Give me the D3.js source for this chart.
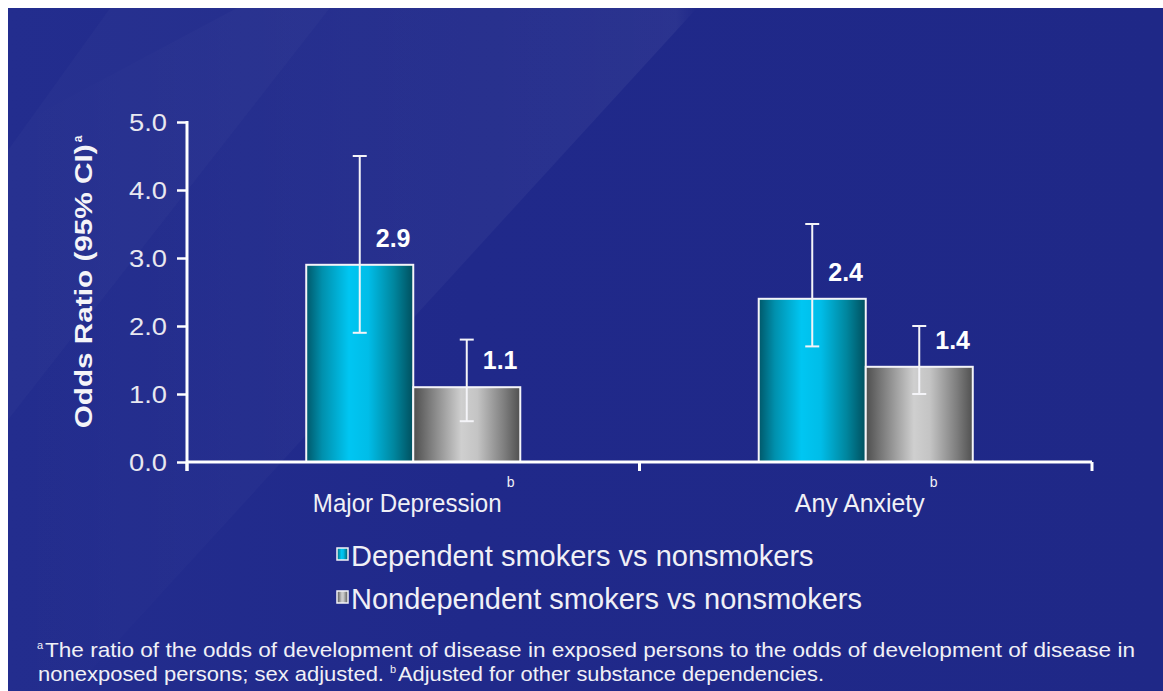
<!DOCTYPE html>
<html>
<head>
<meta charset="utf-8">
<script src="https://cdn.jsdelivr.net/npm/d3@7/dist/d3.min.js"></script>
<style>
  html, body { margin: 0; padding: 0; background: #fff; }
  svg { display: block; font-family: Arial, "Liberation Sans", sans-serif; }
</style>
</head>
<body>
<svg id="chart"></svg>
<script>
// data
var categories = ["Major Depression", "Any Anxiety"];
var seriesNames = ["Dependent smokers vs nonsmokers", "Nondependent smokers vs nonsmokers"];
var dependentOR = [2.9, 2.4];
var dependentLow = [1.9, 1.7];
var dependentHigh = [4.5, 3.5];
var nondependentOR = [1.1, 1.4];
var nondependentLow = [0.6, 1.0];
var nondependentHigh = [1.8, 2.0];
var yTicks = [0, 1, 2, 3, 4, 5];
var footnote1 = "The ratio of the odds of development of disease in exposed persons to the odds of development of disease in";
var footnote2a = "nonexposed persons; sex adjusted.";
var footnote2b = "Adjusted for other substance dependencies.";

var W = 1163, H = 691;
var svg = d3.select("#chart").attr("width", W).attr("height", H);
var defs = svg.append("defs");

// background: white frame top/left, dark blue panel with lighter diagonal streak
var bgGrad = defs.append("linearGradient").attr("id", "bg").attr("x1", "0").attr("y1", "0").attr("x2", "1").attr("y2", "0");
bgGrad.append("stop").attr("offset", "0%").attr("stop-color", "#232d8e");
bgGrad.append("stop").attr("offset", "40%").attr("stop-color", "#20298a");
bgGrad.append("stop").attr("offset", "100%").attr("stop-color", "#1f2887");

svg.append("rect").attr("width", W).attr("height", H).attr("fill", "#fff");
svg.append("rect").attr("x", 8).attr("y", 8).attr("width", W - 8).attr("height", H - 8).attr("fill", "url(#bg)");

var streak = defs.append("linearGradient").attr("id", "streak").attr("x1", "0").attr("y1", "0").attr("x2", "1").attr("y2", "0");
streak.append("stop").attr("offset", "0%").attr("stop-color", "#fff").attr("stop-opacity", 0.0);
streak.append("stop").attr("offset", "55%").attr("stop-color", "#fff").attr("stop-opacity", 0.03);
streak.append("stop").attr("offset", "97%").attr("stop-color", "#fff").attr("stop-opacity", 0.05);
streak.append("stop").attr("offset", "100%").attr("stop-color", "#fff").attr("stop-opacity", 0.0);

svg.append("path")
    .attr("d", "M237,8 L697,8 L72,691 L8,691 L8,130 Z")
    .attr("fill", "url(#streak)");
svg.append("path")
    .attr("d", "M110,8 L330,8 L8,420 L8,150 Z")
    .attr("fill", "#fff").attr("opacity", 0.02);

// bar gradients
function barGradient(id, stops) {
    var g = defs.append("linearGradient").attr("id", id)
        .attr("x1", "0").attr("y1", "0").attr("x2", "1").attr("y2", "0");
    stops.forEach(function(s) {
        g.append("stop").attr("offset", s[0]).attr("stop-color", s[1]);
    });
}
barGradient("cyanGrad", [["0%", "#00586a"], ["15%", "#0090ad"], ["40%", "#00c6f2"], ["58%", "#00bde8"], ["82%", "#00869e"], ["100%", "#004f5e"]]);
barGradient("grayGrad", [["0%", "#4e4e4e"], ["15%", "#7a7a7a"], ["45%", "#cfcfcf"], ["60%", "#c4c4c4"], ["85%", "#7e7e7e"], ["100%", "#505050"]]);
var fills = ["url(#cyanGrad)", "url(#grayGrad)"];

// scales
var y = d3.scaleLinear().domain([0, 5]).range([462, 122]);
var x0 = d3.scaleBand().domain(categories).range([187, 1092]).paddingInner(0.527).paddingOuter(0.2635);
var x1 = d3.scaleBand().domain([0, 1]).range([0, x0.bandwidth()]);

var rows = [];
categories.forEach(function(c, i) {
    rows.push({cat: c, s: 0, v: dependentOR[i], lo: dependentLow[i], hi: dependentHigh[i]});
    rows.push({cat: c, s: 1, v: nondependentOR[i], lo: nondependentLow[i], hi: nondependentHigh[i]});
});

// bars
var bars = svg.append("g").attr("class", "bars");
bars.selectAll("rect")
    .data(rows)
    .enter()
    .append("rect")
    .attr("x", function(d) { return x0(d.cat) + x1(d.s); })
    .attr("y", function(d) { return y(d.v); })
    .attr("width", x1.bandwidth())
    .attr("height", function(d) { return y(0) - y(d.v); })
    .attr("fill", function(d) { return fills[d.s]; })
    .attr("stroke", "#f4f4f8")
    .attr("stroke-width", 2);

// error bars
var err = svg.append("g").attr("class", "errors").attr("stroke", "#f4f4f8").attr("stroke-width", 2);
rows.forEach(function(d) {
    var cx = x0(d.cat) + x1(d.s) + x1.bandwidth() / 2;
    err.append("line").attr("x1", cx).attr("x2", cx).attr("y1", y(d.hi)).attr("y2", y(d.lo));
    err.append("line").attr("x1", cx - 7).attr("x2", cx + 7).attr("y1", y(d.hi)).attr("y2", y(d.hi));
    err.append("line").attr("x1", cx - 7).attr("x2", cx + 7).attr("y1", y(d.lo)).attr("y2", y(d.lo));
});

// value labels
svg.append("g").attr("class", "values")
    .selectAll("text")
    .data(rows)
    .enter()
    .append("text")
    .attr("x", function(d) { return x0(d.cat) + x1(d.s) + x1.bandwidth() / 2 + 16; })
    .attr("y", function(d) { return y(d.v) - 18; })
    .attr("fill", "#fff")
    .attr("font-size", 25)
    .attr("font-weight", "bold")
    .text(function(d) { return d3.format(".1f")(d.v); });

// y axis
var yAxis = svg.append("g").attr("transform", "translate(187,0)")
    .call(d3.axisLeft(y).tickValues(yTicks).tickFormat(d3.format(".1f")).tickSize(10).tickPadding(10));
yAxis.select(".domain").remove();
yAxis.selectAll(".tick line").attr("stroke", "#fff").attr("stroke-width", 2.5);
yAxis.selectAll(".tick text")
    .attr("fill", "#e8e8f0")
    .attr("font-size", 24)
    .attr("font-family", "Arial, 'Liberation Sans', sans-serif")
    .attr("dy", "0.36em")
    .attr("textLength", 38)
    .attr("lengthAdjust", "spacingAndGlyphs");
svg.append("line").attr("x1", 187).attr("x2", 187).attr("y1", y(5) - 1).attr("y2", 471)
    .attr("stroke", "#fff").attr("stroke-width", 3);

// x axis
var xEdges = [x0.range()[0], (x0(categories[0]) + x0.bandwidth() + x0(categories[1])) / 2, x0.range()[1]];
svg.append("line").attr("x1", 187).attr("x2", x0.range()[1]).attr("y1", y(0)).attr("y2", y(0))
    .attr("stroke", "#fff").attr("stroke-width", 3);
svg.append("g").selectAll("line")
    .data(xEdges)
    .enter()
    .append("line")
    .attr("x1", function(d) { return d; }).attr("x2", function(d) { return d; })
    .attr("y1", y(0)).attr("y2", y(0) + 9)
    .attr("stroke", "#fff").attr("stroke-width", 3);

// category labels, superscript b as its own text after the label
var catG = svg.append("g").selectAll("g")
    .data(categories)
    .enter()
    .append("g");
catG.append("text")
    .attr("x", function(d) { return x0(d) + x0.bandwidth() / 2 - 6; })
    .attr("y", 512)
    .attr("text-anchor", "middle")
    .attr("fill", "#f0f0f6")
    .attr("font-size", 25)
    .attr("textLength", function(d) { return d.length * 11.8; })
    .attr("lengthAdjust", "spacingAndGlyphs")
    .text(function(d) { return d; });
catG.append("text")
    .attr("x", function(d) { return x0(d) + x0.bandwidth() / 2 - 6 + d.length * 5.9 + 5; })
    .attr("y", 487)
    .attr("fill", "#f0f0f6")
    .attr("font-size", 14)
    .text("b");

// y axis title
var yTitle = svg.append("text")
    .attr("transform", "translate(92,282) rotate(-90)")
    .attr("text-anchor", "middle")
    .attr("fill", "#f4f4f8")
    .attr("font-size", 24)
    .attr("font-weight", "bold");
yTitle.append("tspan").attr("textLength", 284).attr("lengthAdjust", "spacingAndGlyphs").text("Odds Ratio (95% CI)");
yTitle.append("tspan").attr("font-size", 12).attr("dy", -10).attr("dx", 2).text("a");

// legend
var legend = svg.append("g").selectAll("g")
    .data(seriesNames)
    .enter()
    .append("g")
    .attr("transform", function(d, i) { return "translate(337," + (548 + i * 43) + ")"; });
legend.append("rect")
    .attr("width", 11).attr("height", 12)
    .attr("fill", function(d, i) { return fills[i]; })
    .attr("stroke", "#f4f4f8").attr("stroke-width", 1.5);
legend.append("text")
    .attr("x", 14).attr("y", 18)
    .attr("fill", "#f0f0f6")
    .attr("font-size", 29)
    .text(function(d) { return d; });

// footnotes (condensed look)
svg.append("text").attr("x", 37).attr("y", 649).attr("fill", "#f0f0f6").attr("font-size", 11).text("a");
svg.append("text").attr("x", 45).attr("y", 657).attr("fill", "#f0f0f6").attr("font-size", 21)
    .attr("textLength", 1090).attr("lengthAdjust", "spacingAndGlyphs").text(footnote1);

svg.append("text").attr("x", 38).attr("y", 681).attr("fill", "#f0f0f6").attr("font-size", 21)
    .attr("textLength", 346).attr("lengthAdjust", "spacingAndGlyphs").text(footnote2a);
svg.append("text").attr("x", 390).attr("y", 673).attr("fill", "#f0f0f6").attr("font-size", 11).text("b");
svg.append("text").attr("x", 398).attr("y", 681).attr("fill", "#f0f0f6").attr("font-size", 21)
    .attr("textLength", 426).attr("lengthAdjust", "spacingAndGlyphs").text(footnote2b);
</script>
</body>
</html>
